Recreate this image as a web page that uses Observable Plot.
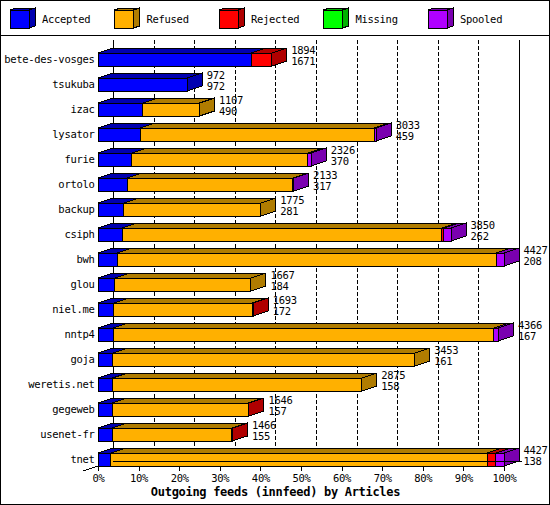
<!DOCTYPE html>
<html><head><meta charset="utf-8">
<script src="https://cdn.jsdelivr.net/npm/d3@7"></script>
<script src="https://cdn.jsdelivr.net/npm/@observablehq/plot@0.6"></script>
<style>body{margin:0;background:#fff} #chart svg{display:block}</style>
</head><body><div id="chart"></div>
<script>
// ---- data ----
const hosts = ["bete-des-vosges","tsukuba","izac","lysator","furie","ortolo","backup","csiph","bwh","glou","niel.me","nntp4","goja","weretis.net","gegeweb","usenet-fr","tnet"];
const totals   = [1894, 972, 1107, 3033, 2326, 2133, 1775, 3850, 4427, 1667, 1693, 4366, 3453, 2875, 1646, 1466, 4427];
const accepted = [1671, 972,  490,  459,  370,  317,  281,  262,  208,  184,  172,  167,  161,  158,  157,  155,  138];
const refused  = [   0,   0,  617, 2554, 1916, 1806, 1494, 3488, 4134, 1483, 1513, 4149, 3292, 2717, 1481, 1303, 4104];
const rejected = [ 223,   0,    0,    0,    0,    0,    0,   20,    0,    0,    8,    0,    0,    0,    8,    8,   95];
const missing  = [   0,   0,    0,    0,    0,    0,    0,    0,    0,    0,    0,    0,    0,    0,    0,    0,    0];
const spooled  = [   0,   0,    0,   20,   40,   10,    0,   80,   85,    0,    0,   50,    0,    0,    0,    0,   90];
const categories  = ["Accepted","Refused","Rejected","Missing","Spooled"];
const frontColors = ["#0000ff","#ffb000","#ff0000","#00ff00","#b000ff"];
const sideColors  = ["#0000b0","#b07c00","#b00000","#00b000","#7a00b0"];
const percentTicks = [0,10,20,30,40,50,60,70,80,90,100];
const title = "Outgoing feeds (innfeed) by Articles";

// ---- derived tables ----
const maxTotal = d3.max(totals);
const series = [accepted, refused, rejected, missing, spooled];
const segments = [];
hosts.forEach((h, i) => {
  let cum = 0;
  series.forEach((s, k) => {
    const v = s[i];
    if (v > 0) segments.push({host: h, k, cat: categories[k], x1: cum / maxTotal * 100, x2: (cum + v) / maxTotal * 100});
    cum += v;
  });
});
const rows = hosts.map((h, i) => ({host: h, total: totals[i], accepted: accepted[i], end: totals[i] / maxTotal * 100}));
const lastSeg = hosts.map(h => segments.filter(s => s.host === h).pop());

const DX = 15, DY = -5; // 3D depth

function bars3d(index, scales) {
  const x = scales.x, y = scales.y;
  const bw = y.bandwidth();
  const g = d3.create("svg:g").attr("stroke", "black").attr("stroke-width", 1);
  for (const s of segments) {
    const a = x(s.x1), b = x(s.x2), t = y(s.host);
    g.append("path")
      .attr("d", `M${a},${t}L${b},${t}L${b + DX},${t + DY}L${a + DX},${t + DY}Z`)
      .attr("fill", sideColors[s.k]);
  }
  for (const s of lastSeg) {
    const b = x(s.x2), t = y(s.host), bot = t + bw;
    g.append("path")
      .attr("d", `M${b},${t}L${b + DX},${t + DY}L${b + DX},${bot + DY}L${b},${bot}Z`)
      .attr("fill", sideColors[s.k]);
  }
  return g.node();
}

function decorations(index, scales, values, dims) {
  const x = scales.x;
  const W = dims.width, H = dims.height;
  const base = H - dims.marginBottom;
  const g = d3.create("svg:g").attr("fill", "none").attr("stroke", "black");
  // outer border and legend separator
  g.append("rect").attr("x", 0.5).attr("y", 0.5).attr("width", W - 1).attr("height", H - 1);
  g.append("line").attr("x1", 0).attr("x2", W).attr("y1", 35.5).attr("y2", 35.5);
  // front axis line and floor edge
  g.append("line").attr("x1", x(0)).attr("x2", x(100)).attr("y1", base + 0.5).attr("y2", base + 0.5);
  g.append("line").attr("x1", x(0)).attr("x2", x(0) - DX).attr("y1", base).attr("y2", base - DY);
  g.append("line").attr("x1", x(0) + DX).attr("x2", x(100) + DX + 3).attr("y1", base + DY + 0.5).attr("y2", base + DY + 0.5);
  // legend
  categories.forEach((c, i) => {
    const bx = 10 + i * 104.5, by = 10, bwid = 19, bh = 18, ddx = 6, ddy = -2;
    const lg = g.append("g").attr("stroke", "black");
    lg.append("path").attr("d", `M${bx},${by}L${bx + bwid},${by}L${bx + bwid + ddx},${by + ddy}L${bx + ddx},${by + ddy}Z`).attr("fill", sideColors[i]);
    lg.append("path").attr("d", `M${bx + bwid},${by}L${bx + bwid + ddx},${by + ddy}L${bx + bwid + ddx},${by + bh + ddy}L${bx + bwid},${by + bh}Z`).attr("fill", sideColors[i]);
    lg.append("rect").attr("x", bx).attr("y", by).attr("width", bwid).attr("height", bh).attr("fill", frontColors[i]);
    g.append("text").attr("x", bx + 32).attr("y", by + bh / 2).attr("dy", "0.35em")
      .attr("text-anchor", "start")
      .attr("fill", "black").attr("stroke", "none").text(c);
  });
  return g.node();
}

const chart = Plot.plot({
  width: 550,
  height: 505,
  marginLeft: 98,
  marginRight: 46,
  marginTop: 40,
  marginBottom: 39,
  style: {
    fontFamily: "'DejaVu Sans Mono', monospace",
    fontSize: "10.5px",
    letterSpacing: "-0.3px",
    color: "black",
    background: "white",
    shapeRendering: "crispEdges",
    overflow: "visible"
  },
  x: {domain: [0, 100], ticks: percentTicks, tickFormat: d => d + "%", tickSize: 5, tickPadding: 3, label: null},
  y: {domain: hosts, paddingInner: 0.48, paddingOuter: 0.26, align: 1, tickSize: 0, tickPadding: 4, label: null},
  marks: [
    Plot.ruleX(percentTicks.slice(1, -1), {dx: DX, insetBottom: 5, stroke: "black", strokeDasharray: "4,2"}),
    Plot.ruleX([0, 100], {dx: DX, insetBottom: 5, stroke: "black"}),
    Plot.barX(segments, {x1: "x1", x2: "x2", y: "host", fill: d => frontColors[d.k], stroke: "black"}),
    bars3d,
    Plot.text(rows, {x: "end", y: "host", text: d => String(d.total), dx: 19, dy: -9.5, textAnchor: "start", lineAnchor: "middle", fill: "black"}),
    Plot.text(rows, {x: "end", y: "host", text: d => String(d.accepted), dx: 19, dy: 1.5, textAnchor: "start", lineAnchor: "middle", fill: "black"}),
    Plot.text([title], {frameAnchor: "bottom", dx: -26, dy: 25.5, fontWeight: "bold", fontSize: 12, lineAnchor: "middle", fill: "black"}),
    decorations
  ]
});
document.getElementById("chart").appendChild(chart);
</script>
</body></html>
